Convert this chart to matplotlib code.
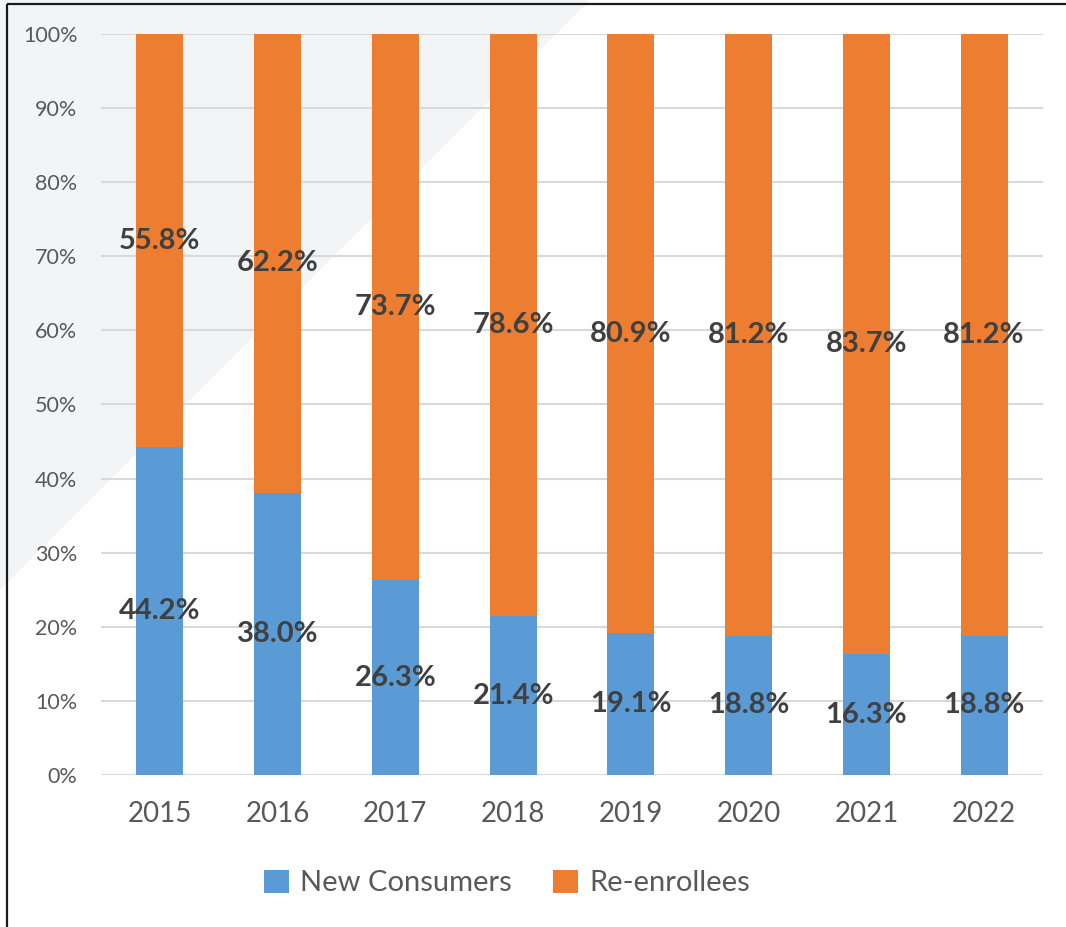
import matplotlib.pyplot as plt
from matplotlib.patches import Polygon, Rectangle
import numpy as np

years = ['2015', '2016', '2017', '2018', '2019', '2020', '2021', '2022']
new_consumers = [44.2, 38.0, 26.3, 21.4, 19.1, 18.8, 16.3, 18.8]
re_enrollees = [55.8, 62.2, 73.7, 78.6, 80.9, 81.2, 83.7, 81.2]

blue = '#5B9BD5'
orange = '#ED7D31'
W, H = 1066, 927

plt.rcParams['font.family'] = ['Lato', 'DejaVu Sans']
fig = plt.figure(figsize=(W / 100, H / 100), dpi=100)

# background layer: pale triangle in the upper left corner and the frame line
bg = fig.add_axes([0, 0, 1, 1], zorder=0)
bg.set_axis_off()
bg.set_xlim(0, W)
bg.set_ylim(H, 0)
bg.add_patch(Polygon([(0, 0), (590, 0), (0, 590)], closed=True,
                     facecolor='#F3F4F6', edgecolor='none'))
bg.add_patch(Rectangle((7, 4), W + 50, H + 50, facecolor='none',
                       edgecolor='#1a1a1a', lw=1.6))

ax = fig.add_axes([101 / W, (H - 775) / H, (1043 - 101) / W, (775 - 34) / H], zorder=2)
ax.set_facecolor('none')
x = np.arange(len(years))
nc = np.array(new_consumers)
re = np.array(re_enrollees)
ax.bar(x, nc, width=0.4, color=blue, zorder=3, label='New Consumers')
ax.bar(x, re, width=0.4, bottom=nc, color=orange, zorder=3, label='Re-enrollees')

for i in range(len(years)):
    ax.text(x[i], nc[i] / 2, f'{nc[i]:.1f}%', ha='center', va='center',
            fontsize=21, fontweight='bold', color='#404040', zorder=4)
    ax.text(x[i], nc[i] + re[i] / 2, f'{re[i]:.1f}%', ha='center', va='center',
            fontsize=21, fontweight='bold', color='#404040', zorder=4)

ax.set_xlim(-0.5, len(years) - 0.5)
ax.set_ylim(0, 100)
ax.set_yticks(np.arange(0, 101, 10))
ax.set_yticklabels([f'{v}%' for v in range(0, 101, 10)])
ax.set_xticks(x)
ax.set_xticklabels(years)
ax.grid(axis='y', color='#D9D9D9', lw=1.5, zorder=0)
for s in ax.spines.values():
    s.set_visible(False)
ax.tick_params(axis='y', length=0, pad=17, labelsize=15.5, labelcolor='#595959')
ax.tick_params(axis='x', length=0, pad=19, labelsize=20, labelcolor='#595959')

leg = fig.legend(loc='center', bbox_to_anchor=(507 / W, 1 - 883 / H), ncol=2,
                 frameon=False, fontsize=21, handlelength=0.85, handleheight=0.85,
                 handletextpad=0.4, columnspacing=1.4, labelcolor='#595959')

fig.savefig('out.png', dpi=100)
